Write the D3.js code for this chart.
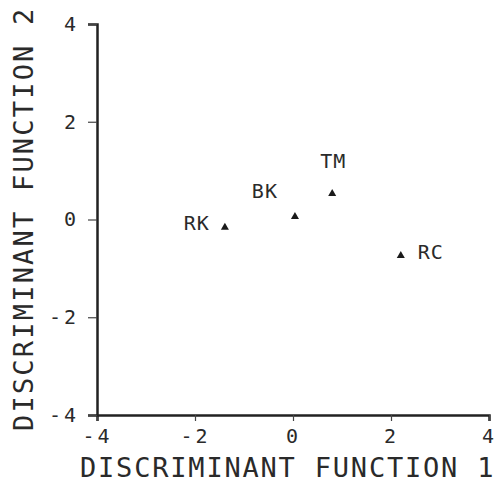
<!DOCTYPE html>
<html>
<head>
<meta charset="utf-8">
<script src="https://cdn.jsdelivr.net/npm/d3@7"></script>
<style>
  body { margin: 0; background: #fff; }
  text { font-family: "DejaVu Sans Mono", monospace; fill: #2a2a2a; }
</style>
</head>
<body>
<svg id="chart"></svg>
<script>
const groups = ["RK", "BK", "TM", "RC"];
const fn1 = [-1.39, 0.04, 0.80, 2.20];
const fn2 = [-0.16, 0.06, 0.53, -0.74];
const tickValues = [-4, -2, 0, 2, 4];

// label placement relative to each point
const labelPos = {
  RK: { dx: -15, dy: 3, anchor: "end" },
  BK: { dx: -17, dy: -19, anchor: "end" },
  TM: { dx: 1, dy: -26, anchor: "middle" },
  RC: { dx: 17, dy: 3, anchor: "start" }
};

const width = 498, height = 485;
const margin = { left: 97, right: 9, top: 24, bottom: 70 };

const svg = d3.select("#chart")
  .attr("width", width)
  .attr("height", height);

const x = d3.scaleLinear().domain([-4, 4]).range([margin.left, width - margin.right]);
const y = d3.scaleLinear().domain([-4, 4]).range([height - margin.bottom, margin.top]);

const xAxis = svg.append("g")
  .attr("transform", `translate(0, ${y(-4)})`)
  .call(d3.axisBottom(x).tickValues(tickValues).tickSize(6).tickPadding(8)
    .tickFormat(d => d < 0 ? "-" + Math.abs(d) : d));

const yAxis = svg.append("g")
  .attr("transform", `translate(${x(-4)}, 0)`)
  .call(d3.axisLeft(y).tickValues(tickValues).tickSize(9).tickPadding(9)
    .tickFormat(d => d < 0 ? "-" + Math.abs(d) : d));

[xAxis, yAxis].forEach(g => {
  g.select(".domain").attr("stroke", "#222").attr("stroke-width", 2.5);
  g.selectAll(".tick line").attr("stroke", "#444").attr("stroke-width", 1.2);
  g.selectAll(".tick text")
    .attr("font-family", "DejaVu Sans Mono")
    .attr("font-size", 20)
    .style("letter-spacing", "3px")
    .attr("fill", "#2a2a2a");
});

svg.append("text")
  .attr("x", 80)
  .attr("y", 477)
  .attr("font-size", 27)
  .style("letter-spacing", "1.8px")
  .text("DISCRIMINANT FUNCTION 1");

svg.append("text")
  .attr("transform", "translate(33, 431) rotate(-90)")
  .attr("font-size", 27)
  .style("letter-spacing", "2.2px")
  .text("DISCRIMINANT FUNCTION 2");

const pts = groups.map((g, i) => ({ name: g, a: fn1[i], b: fn2[i] }));

svg.selectAll("path.pt")
  .data(pts)
  .enter()
  .append("path")
  .attr("class", "pt")
  .attr("d", d3.symbol().type(d3.symbolTriangle).size(28))
  .attr("transform", d => `translate(${x(d.a)}, ${y(d.b)})`)
  .attr("fill", "#1a1a1a");

svg.selectAll("text.lbl")
  .data(pts)
  .enter()
  .append("text")
  .attr("class", "lbl")
  .attr("x", d => x(d.a) + labelPos[d.name].dx)
  .attr("y", d => y(d.b) + labelPos[d.name].dy)
  .attr("text-anchor", d => labelPos[d.name].anchor)
  .attr("font-size", 20)
  .style("letter-spacing", "1px")
  .text(d => d.name);
</script>
</body>
</html>
